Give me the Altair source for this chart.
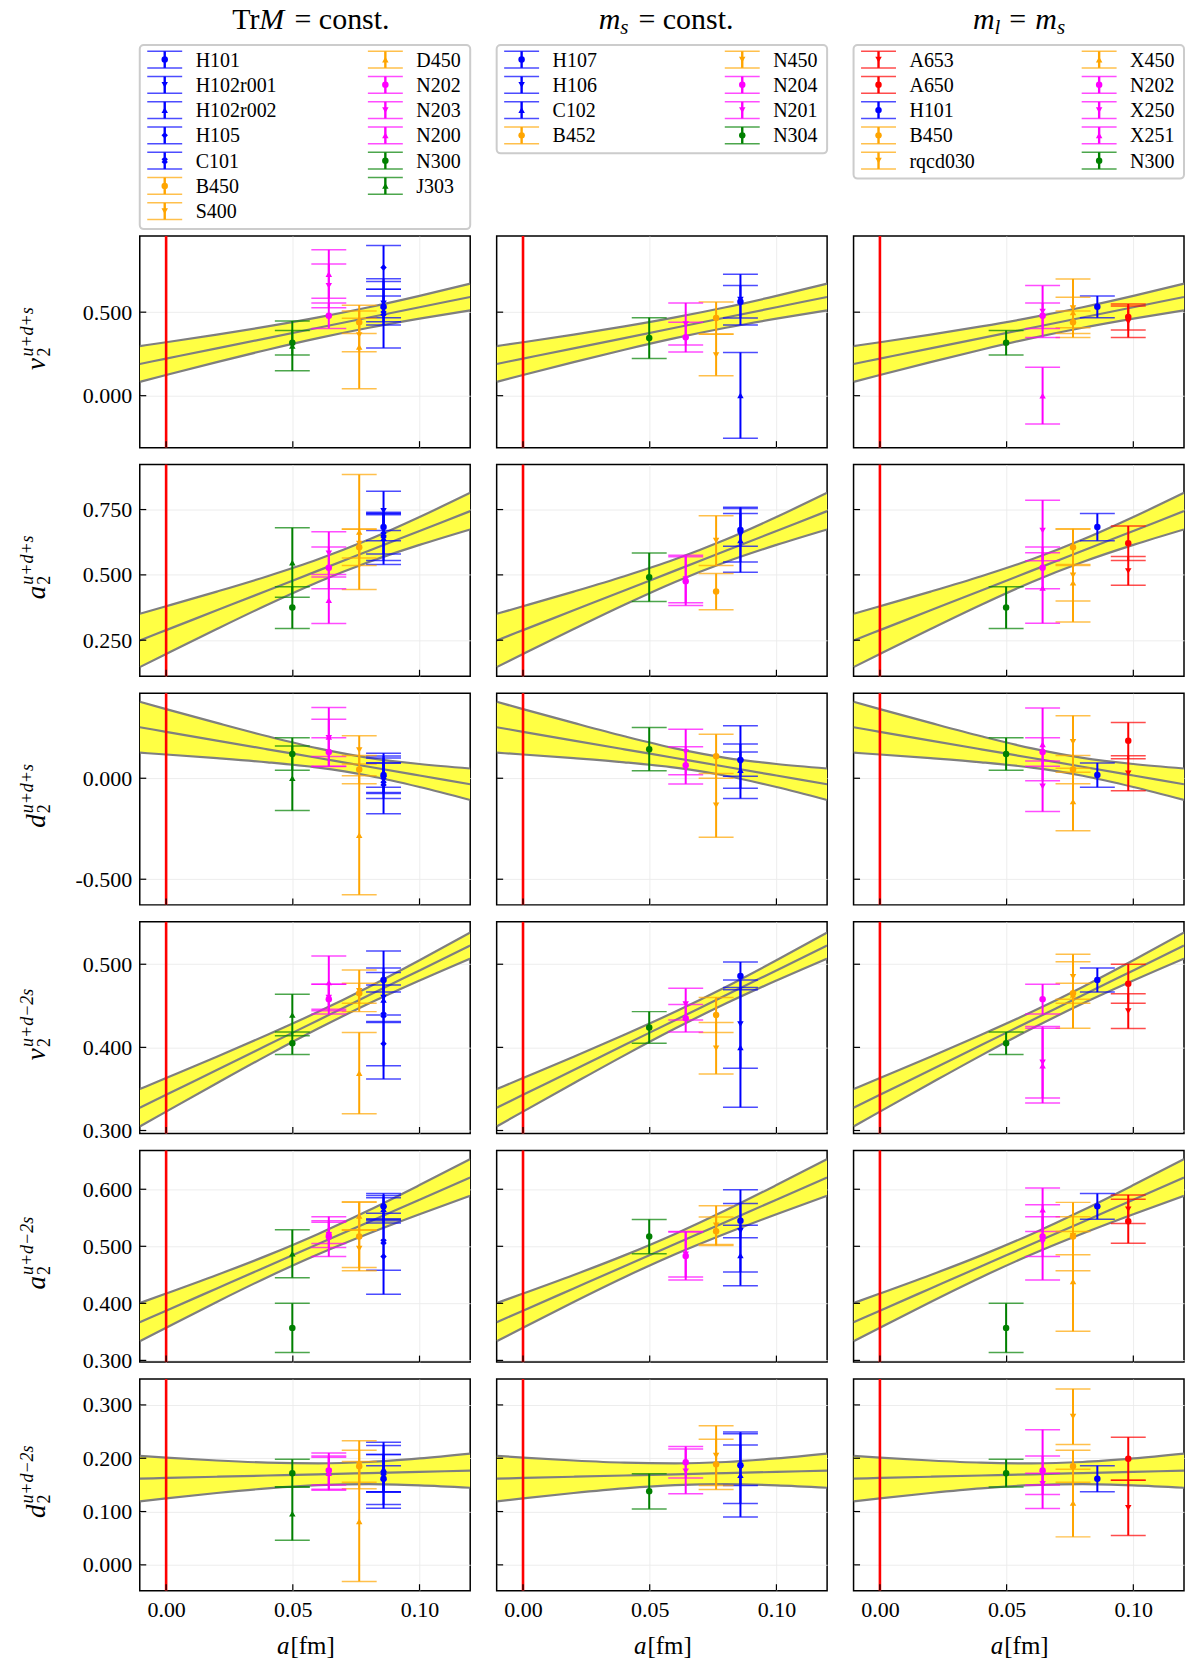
import altair as alt
import pandas as pd

SERIF = "Liberation Serif"
PANEL_W, PANEL_H = 331, 212
LEG_H = 217

BLUE, ORANGE, MAGENTA, GREEN, RED = "#0000ff", "#ffa500", "#ff00ff", "#008000", "#ff0000"

# lattice spacing a [fm] of each ensemble
A_FM = {
    "N300": 0.0498, "J303": 0.0498, "N304": 0.0498,
    "N202": 0.0642, "N203": 0.0642, "N200": 0.0642, "N204": 0.0642,
    "N201": 0.0642, "X250": 0.0642, "X251": 0.0642,
    "B450": 0.0762, "S400": 0.0762, "D450": 0.0762, "B452": 0.0762,
    "N450": 0.0762, "rqcd030": 0.0762, "X450": 0.0762,
    "H101": 0.0858, "H102r001": 0.0858, "H102r002": 0.0858, "H105": 0.0858,
    "C101": 0.0858, "H107": 0.0858, "H106": 0.0858, "C102": 0.0858,
    "A653": 0.0980, "A650": 0.0980,
}

# colour and marker of each ensemble
STYLE = {
    "H101": (BLUE, "o"), "H102r001": (BLUE, "v"), "H102r002": (BLUE, "^"),
    "H105": (BLUE, "d"), "C101": (BLUE, "x"), "H107": (BLUE, "o"),
    "H106": (BLUE, "v"), "C102": (BLUE, "^"),
    "B450": (ORANGE, "o"), "S400": (ORANGE, "v"), "D450": (ORANGE, "^"),
    "B452": (ORANGE, "o"), "N450": (ORANGE, "v"), "rqcd030": (ORANGE, "v"),
    "X450": (ORANGE, "^"),
    "N202": (MAGENTA, "o"), "N203": (MAGENTA, "v"), "N200": (MAGENTA, "^"),
    "N204": (MAGENTA, "o"), "N201": (MAGENTA, "v"), "X250": (MAGENTA, "v"),
    "X251": (MAGENTA, "^"),
    "N300": (GREEN, "o"), "J303": (GREEN, "^"), "N304": (GREEN, "o"),
    "A653": (RED, "v"), "A650": (RED, "o"),
}
SHAPES = {"o": "circle", "v": "triangle-down", "^": "triangle-up",
          "d": "diamond", "x": "cross"}

OBS_KEYS = ["v2_uds", "a2_uds", "d2_uds", "v2_ud2s", "a2_ud2s", "d2_ud2s"]
OBS_LETTER = ["v", "a", "d", "v", "a", "d"]
OBS_FLAVOUR = ["u+d+s", "u+d+s", "u+d+s", "u+d\u22122s", "u+d\u22122s", "u+d\u22122s"]

# --- Tr M = const. trajectory ---
TRM_NAMES = ["H101", "H102r001", "H102r002", "H105", "C101", "B450", "S400",
             "D450", "N202", "N203", "N200", "N300", "J303"]
TRM_VAL = {
    "v2_uds": [0.532, 0.553, 0.540, 0.768, 0.493, 0.440, 0.363, 0.292, 0.479, 0.658, 0.728, 0.317, 0.298],
    "a2_uds": [0.683, 0.745, 0.640, 0.645, 0.655, 0.606, 0.620, 0.664, 0.527, 0.583, 0.403, 0.375, 0.547],
    "d2_uds": [0.016, 0.000, 0.020, 0.000, -0.026, 0.043, 0.140, -0.282, 0.130, 0.200, 0.204, 0.120, 0.000],
    "v2_ud2s": [0.481, 0.460, 0.457, 0.4045, 0.439, 0.465, 0.468, 0.369, 0.458, 0.460, 0.478, 0.405, 0.439],
    "a2_ud2s": [0.570, 0.565, 0.565, 0.482, 0.508, 0.517, 0.496, 0.553, 0.517, 0.520, 0.525, 0.357, 0.487],
    "d2_ud2s": [0.1615, 0.168, 0.180, 0.160, 0.172, 0.185, 0.188, 0.0815, 0.177, 0.175, 0.172, 0.172, 0.096],
}
TRM_ERR = {
    "v2_uds": [0.065, 0.130, 0.097, 0.131, 0.207, 0.067, 0.100, 0.250, 0.076, 0.131, 0.145, 0.074, 0.149],
    "a2_uds": [0.052, 0.075, 0.100, 0.090, 0.075, 0.070, 0.055, 0.220, 0.080, 0.082, 0.089, 0.080, 0.133],
    "d2_uds": [0.060, 0.100, 0.090, 0.076, 0.150, 0.070, 0.070, 0.295, 0.070, 0.092, 0.146, 0.080, 0.160],
    "v2_ud2s": [0.0145, 0.030, 0.018, 0.0265, 0.077, 0.012, 0.025, 0.049, 0.018, 0.016, 0.032, 0.0135, 0.025],
    "a2_ud2s": [0.0225, 0.024, 0.020, 0.066, 0.050, 0.060, 0.033, 0.025, 0.035, 0.022, 0.020, 0.043, 0.042],
    "d2_ud2s": [0.0245, 0.062, 0.044, 0.047, 0.035, 0.030, 0.045, 0.1125, 0.027, 0.035, 0.030, 0.026, 0.050],
}

# --- m_s = const. trajectory ---
MS_NAMES = ["H107", "H106", "C102", "B452", "N450", "N204", "N201", "N304"]
MS_VAL = {
    "v2_uds": [0.562, 0.575, 0.002, 0.465, 0.244, 0.350, 0.429, 0.345],
    "a2_uds": [0.672, 0.654, 0.632, 0.436, 0.631, 0.476, 0.484, 0.491],
    "d2_uds": [0.090, 0.080, 0.040, 0.109, -0.134, 0.064, 0.130, 0.144],
    "v2_ud2s": [0.486, 0.428, 0.400, 0.439, 0.399, 0.435, 0.452, 0.424],
    "a2_ud2s": [0.545, 0.527, 0.484, 0.5265, 0.537, 0.483, 0.486, 0.517],
    "d2_ud2s": [0.187, 0.182, 0.168, 0.1885, 0.205, 0.1926, 0.1755, 0.138],
}
MS_ERR = {
    "v2_uds": [0.097, 0.152, 0.257, 0.096, 0.124, 0.089, 0.126, 0.122],
    "a2_uds": [0.0625, 0.105, 0.122, 0.069, 0.095, 0.093, 0.091, 0.093],
    "d2_uds": [0.080, 0.180, 0.090, 0.109, 0.158, 0.092, 0.113, 0.107],
    "v2_ud2s": [0.0167, 0.053, 0.072, 0.021, 0.031, 0.0165, 0.019, 0.019],
    "a2_ud2s": [0.030, 0.072, 0.053, 0.025, 0.034, 0.042, 0.040, 0.030],
    "d2_ud2s": [0.038, 0.067, 0.078, 0.047, 0.056, 0.0295, 0.042, 0.033],
}

# --- m_l = m_s (symmetric) line ---
ML_NAMES = ["A653", "A650", "H101", "B450", "rqcd030", "X450", "N202", "X250", "X251", "N300"]
ML_VAL = {
    "v2_uds": [0.443, 0.471, 0.532, 0.440, 0.524, 0.498, 0.479, 0.504, 0.000, 0.317],
    "a2_uds": [0.515, 0.621, 0.683, 0.606, 0.498, 0.470, 0.527, 0.670, 0.450, 0.375],
    "d2_uds": [0.025, 0.186, 0.016, 0.043, 0.180, -0.115, 0.130, -0.040, 0.168, 0.120],
    "v2_ud2s": [0.4436, 0.4765, 0.481, 0.465, 0.485, 0.463, 0.458, 0.382, 0.378, 0.405],
    "a2_ud2s": [0.565, 0.544, 0.570, 0.517, 0.5185, 0.4385, 0.517, 0.507, 0.564, 0.357],
    "d2_ud2s": [0.107, 0.199, 0.1615, 0.185, 0.278, 0.116, 0.177, 0.152, 0.1795, 0.172],
}
ML_ERR = {
    "v2_uds": [0.094, 0.078, 0.065, 0.067, 0.175, 0.091, 0.076, 0.155, 0.170, 0.074],
    "a2_uds": [0.055, 0.066, 0.052, 0.070, 0.178, 0.070, 0.080, 0.116, 0.135, 0.080],
    "d2_uds": [0.087, 0.090, 0.060, 0.070, 0.130, 0.145, 0.070, 0.125, 0.180, 0.080],
    "v2_ud2s": [0.021, 0.0235, 0.0145, 0.012, 0.027, 0.040, 0.018, 0.043, 0.045, 0.0135],
    "a2_ud2s": [0.025, 0.0385, 0.0225, 0.060, 0.0335, 0.0875, 0.035, 0.066, 0.038, 0.043],
    "d2_ud2s": [0.0517, 0.0405, 0.0245, 0.030, 0.052, 0.0635, 0.027, 0.020, 0.074, 0.026],
}

SCHEMES = [
    {"names": TRM_NAMES, "val": TRM_VAL, "err": TRM_ERR},
    {"names": MS_NAMES, "val": MS_VAL, "err": MS_ERR},
    {"names": ML_NAMES, "val": ML_VAL, "err": ML_ERR},
]

# continuum-extrapolation bands: centre and half width along a
BAND_A = [-0.0104, 0.0, 0.02, 0.04, 0.06, 0.08, 0.10, 0.12]
BAND_MID = [
    [0.190, 0.222, 0.2835, 0.345, 0.4065, 0.468, 0.5295, 0.591],
    [0.249, 0.2885, 0.3644, 0.4403, 0.5163, 0.5922, 0.6681, 0.744],
    [0.2525, 0.230, 0.1867, 0.1434, 0.1002, 0.0569, 0.0136, -0.0297],
    [0.3273, 0.3429, 0.3728, 0.4028, 0.4327, 0.4627, 0.4926, 0.5225],
    [0.367, 0.3872, 0.4261, 0.465, 0.5039, 0.5428, 0.5818, 0.6207],
    [0.1618, 0.163, 0.1653, 0.1676, 0.1699, 0.1721, 0.1744, 0.1767],
]
BAND_HW = [
    [0.107, 0.098, 0.0822, 0.0696, 0.062, 0.0614, 0.068, 0.080],
    [0.102, 0.0913, 0.0716, 0.0546, 0.0434, 0.0429, 0.0533, 0.070],
    [0.126, 0.1124, 0.0873, 0.0645, 0.0477, 0.0444, 0.0569, 0.078],
    [0.0225, 0.0202, 0.016, 0.0124, 0.0101, 0.010, 0.0122, 0.0157],
    [0.0335, 0.0299, 0.0236, 0.0191, 0.0178, 0.0203, 0.0255, 0.0321],
    [0.0427, 0.0383, 0.0305, 0.0241, 0.0204, 0.0208, 0.0253, 0.0321],
]

X_DOMAIN = [-0.0104, 0.12]
X_TICKS = [0.0, 0.05, 0.10]
Y_DOMAINS = [[-0.311, 0.956], [0.112, 0.922], [-0.627, 0.421],
             [0.2964, 0.551], [0.297, 0.668], [-0.0485, 0.3485]]
Y_TICKS = [[0.0, 0.5], [0.25, 0.5, 0.75], [-0.5, 0.0],
           [0.3, 0.4, 0.5], [0.3, 0.4, 0.5, 0.6], [0.0, 0.1, 0.2, 0.3]]

ONE = pd.DataFrame({"k": [0]})
MARKER_SIZE = 42


def text_piece(text, x, y, size, italic=False, align="left", angle=0, dx=0, dy=0):
    kw = dict(text=text, font=SERIF, fontSize=size, align=align,
              baseline="alphabetic", color="black")
    if italic:
        kw["fontStyle"] = "italic"
    if angle:
        kw["angle"] = angle
    if dx:
        kw["dx"] = dx
    if dy:
        kw["dy"] = dy
    return alt.Chart(ONE).mark_text(**kw).encode(x=alt.value(x), y=alt.value(y))


def style_columns(df):
    df["color"] = [STYLE[n][0] for n in df["name"]]
    df["shape"] = [SHAPES[STYLE[n][1]] for n in df["name"]]
    df["angle"] = [45 if STYLE[n][1] == "x" else 0 for n in df["name"]]
    return df


def panel(scheme, r, c):
    key = OBS_KEYS[r]
    names = scheme["names"]
    pts = pd.DataFrame({
        "name": names,
        "a": [A_FM[n] for n in names],
        "val": scheme["val"][key],
        "err": scheme["err"][key],
    })
    pts["lo"] = pts["val"] - pts["err"]
    pts["hi"] = pts["val"] + pts["err"]
    pts = style_columns(pts)

    band = pd.DataFrame({"a": BAND_A, "mid": BAND_MID[r], "hw": BAND_HW[r]})
    band["lo"] = band["mid"] - band["hw"]
    band["hi"] = band["mid"] + band["hw"]
    band_long = band.melt(id_vars="a", value_vars=["lo", "mid", "hi"],
                          var_name="edge", value_name="y")

    xs = alt.Scale(domain=X_DOMAIN, nice=False, zero=False)
    ys = alt.Scale(domain=Y_DOMAINS[r], nice=False, zero=False)
    bottom = r == len(OBS_KEYS) - 1
    left = c == 0

    x_axis = alt.Axis(values=X_TICKS, grid=True, ticks=False, tickSize=0, domain=False,
                      labels=bottom, format=".2f", labelPadding=9, title=None)
    y_axis = alt.Axis(values=Y_TICKS[r], grid=True, ticks=False, tickSize=0, domain=False,
                      labels=left, labelPadding=8, title=None,
                      labelExpr="(datum.value < 0 ? '-' : '') + format(abs(datum.value), '.3f')")

    X = lambda f: alt.X(f, scale=xs, title=None)
    Y = lambda f: alt.Y(f, scale=ys, title=None)
    col = alt.Color("color:N", scale=None)

    layers = [
        alt.Chart(band).mark_area(color="#ffff44", interpolate="monotone", clip=True).encode(
            x=alt.X("a:Q", scale=xs, axis=x_axis, title=None),
            y=alt.Y("lo:Q", scale=ys, axis=y_axis, title=None),
            y2="hi:Q"),
        alt.Chart(band_long).mark_line(color="#7f7f7f", strokeWidth=2.2,
                                       interpolate="monotone", clip=True).encode(
            x=X("a:Q"), y=Y("y:Q"), detail="edge:N"),
        alt.Chart(pd.DataFrame({"a": [0.0]})).mark_rule(color=RED, strokeWidth=2.6).encode(
            x=X("a:Q")),
        alt.Chart(pts).mark_rule(strokeWidth=2).encode(
            x=X("a:Q"), y=Y("lo:Q"), y2="hi:Q", color=col),
        alt.Chart(pts).mark_tick(orient="horizontal", size=35, thickness=1.5).encode(
            x=X("a:Q"), y=Y("lo:Q"), color=col),
        alt.Chart(pts).mark_tick(orient="horizontal", size=35, thickness=1.5).encode(
            x=X("a:Q"), y=Y("hi:Q"), color=col),
        alt.Chart(pts).mark_point(filled=True, size=MARKER_SIZE, opacity=1).encode(
            x=X("a:Q"), y=Y("val:Q"), color=col,
            shape=alt.Shape("shape:N", scale=None),
            angle=alt.Angle("angle:Q", scale=None)),
        # inward ticks on the left and bottom frame
        alt.Chart(pd.DataFrame({"t": Y_TICKS[r]})).mark_rule(color="black", strokeWidth=1.2).encode(
            y=Y("t:Q"), x=alt.value(0), x2=alt.value(6.5)),
        alt.Chart(pd.DataFrame({"t": X_TICKS})).mark_rule(color="black", strokeWidth=1.2).encode(
            x=X("t:Q"), y=alt.value(PANEL_H), y2=alt.value(PANEL_H - 6.5)),
    ]

    if left:
        letter = OBS_LETTER[r]
        flav = OBS_FLAVOUR[r]
        w_letter = {"v": 12.5, "a": 13.5, "d": 13.5}[letter]
        w_sup = 49 if len(flav) == 5 else 58
        length = w_letter + 1 + w_sup
        y0 = PANEL_H / 2 - 3 + length / 2
        layers += [
            text_piece(letter, -95, y0, 27, italic=True, angle=270),
            text_piece("2", -95, y0, 18, angle=270, dx=w_letter + 1, dy=5),
            text_piece(flav, -95, y0, 18, italic=True, angle=270, dx=w_letter + 1, dy=-12),
        ]
    if bottom:
        layers += [
            text_piece("a", 150, PANEL_H + 63.5, 25, italic=True, align="right"),
            text_piece("[fm]", 151, PANEL_H + 63.5, 25),
        ]

    return alt.layer(*layers).properties(width=PANEL_W, height=PANEL_H)


# column headings: (text, x, dy, size, italic, align)
HEADINGS = [
    [("Tr", 119.8, 0, 30, False, "right"), ("M", 144.8, 0, 30, True, "right"),
     ("= const.", 155, 0, 30, False, "left")],
    [("m", 123.9, 0, 30, True, "right"), ("s", 123.9, 5, 21, True, "left"),
     ("= const.", 142, 0, 30, False, "left")],
    [("m", 141.2, 0, 30, True, "right"), ("l", 141.2, 5, 21, True, "left"),
     ("=", 156, 0, 30, False, "left"), ("m", 182, 0, 30, True, "left"),
     ("s", 203.7, 5, 21, True, "left")],
]


def legend_panel(scheme, heading, anchor=False):
    names = scheme["names"]
    n = len(names)
    nleft = (n + 1) // 2
    rows = []
    for i, name in enumerate(names):
        cidx = 0 if i < nleft else 1
        ridx = i if cidx == 0 else i - nleft
        gx = 25 + 221 * cidx
        y = 57.3 + 25.3 * ridx
        rows.append({"name": name, "gx": gx, "tx": gx + 31, "y": y,
                     "lo": y - 8.3, "hi": y + 8.3})
    df = style_columns(pd.DataFrame(rows))
    box_bottom = 57.3 + 25.3 * (nleft - 1) + 18

    lxs = alt.Scale(domain=[0, PANEL_W], nice=False, zero=False)
    lys = alt.Scale(domain=[0, LEG_H], nice=False, zero=False, reverse=True)
    LX = lambda f: alt.X(f, scale=lxs, axis=None)
    LY = lambda f: alt.Y(f, scale=lys, axis=None)
    col = alt.Color("color:N", scale=None)

    layers = []
    if anchor:
        layers.append(alt.Chart(ONE).mark_rule(color="white", strokeWidth=1).encode(
            x=alt.value(-138), x2=alt.value(-137), y=alt.value(0.5), y2=alt.value(0.5)))
    layers += [
        alt.Chart(ONE).mark_rect(fill="white", stroke="#cccccc", strokeWidth=2,
                                 cornerRadius=4).encode(
            x=alt.value(0), x2=alt.value(PANEL_W), y=alt.value(42.7), y2=alt.value(box_bottom)),
        alt.Chart(df).mark_rule(strokeWidth=2.4).encode(
            x=LX("gx:Q"), y=LY("lo:Q"), y2="hi:Q", color=col),
        alt.Chart(df).mark_tick(orient="horizontal", size=35, thickness=1.5).encode(
            x=LX("gx:Q"), y=LY("lo:Q"), color=col),
        alt.Chart(df).mark_tick(orient="horizontal", size=35, thickness=1.5).encode(
            x=LX("gx:Q"), y=LY("hi:Q"), color=col),
        alt.Chart(df).mark_point(filled=True, size=MARKER_SIZE, opacity=1).encode(
            x=LX("gx:Q"), y=LY("y:Q"), color=col,
            shape=alt.Shape("shape:N", scale=None),
            angle=alt.Angle("angle:Q", scale=None)),
        alt.Chart(df).mark_text(align="left", baseline="middle", font=SERIF,
                                fontSize=20, dy=1, color="black").encode(
            x=LX("tx:Q"), y=LY("y:Q"), text="name:N"),
    ]
    for text, x, dy, size, italic, align in heading:
        layers.append(text_piece(text, x, 26.7, size, italic=italic, align=align, dy=dy))

    return alt.layer(*layers).properties(
        width=PANEL_W, height=LEG_H, view=alt.ViewBackground(stroke="transparent"))


charts = [legend_panel(SCHEMES[c], HEADINGS[c], anchor=(c == 0)) for c in range(3)]
for r in range(len(OBS_KEYS)):
    for c in range(3):
        charts.append(panel(SCHEMES[c], r, c))

chart = alt.concat(
    *charts, columns=3, spacing={"row": 17, "column": 26.5},
    bounds="flush", align="each",
).properties(padding=0).configure_view(
    stroke="black", strokeWidth=1.5,
).configure_axis(
    labelFont=SERIF, labelFontSize=22, labelColor="black",
    gridColor="#ebebeb", gridWidth=0.9,
)

chart.save("out.html", embed_options={"renderer": "svg", "actions": False})
